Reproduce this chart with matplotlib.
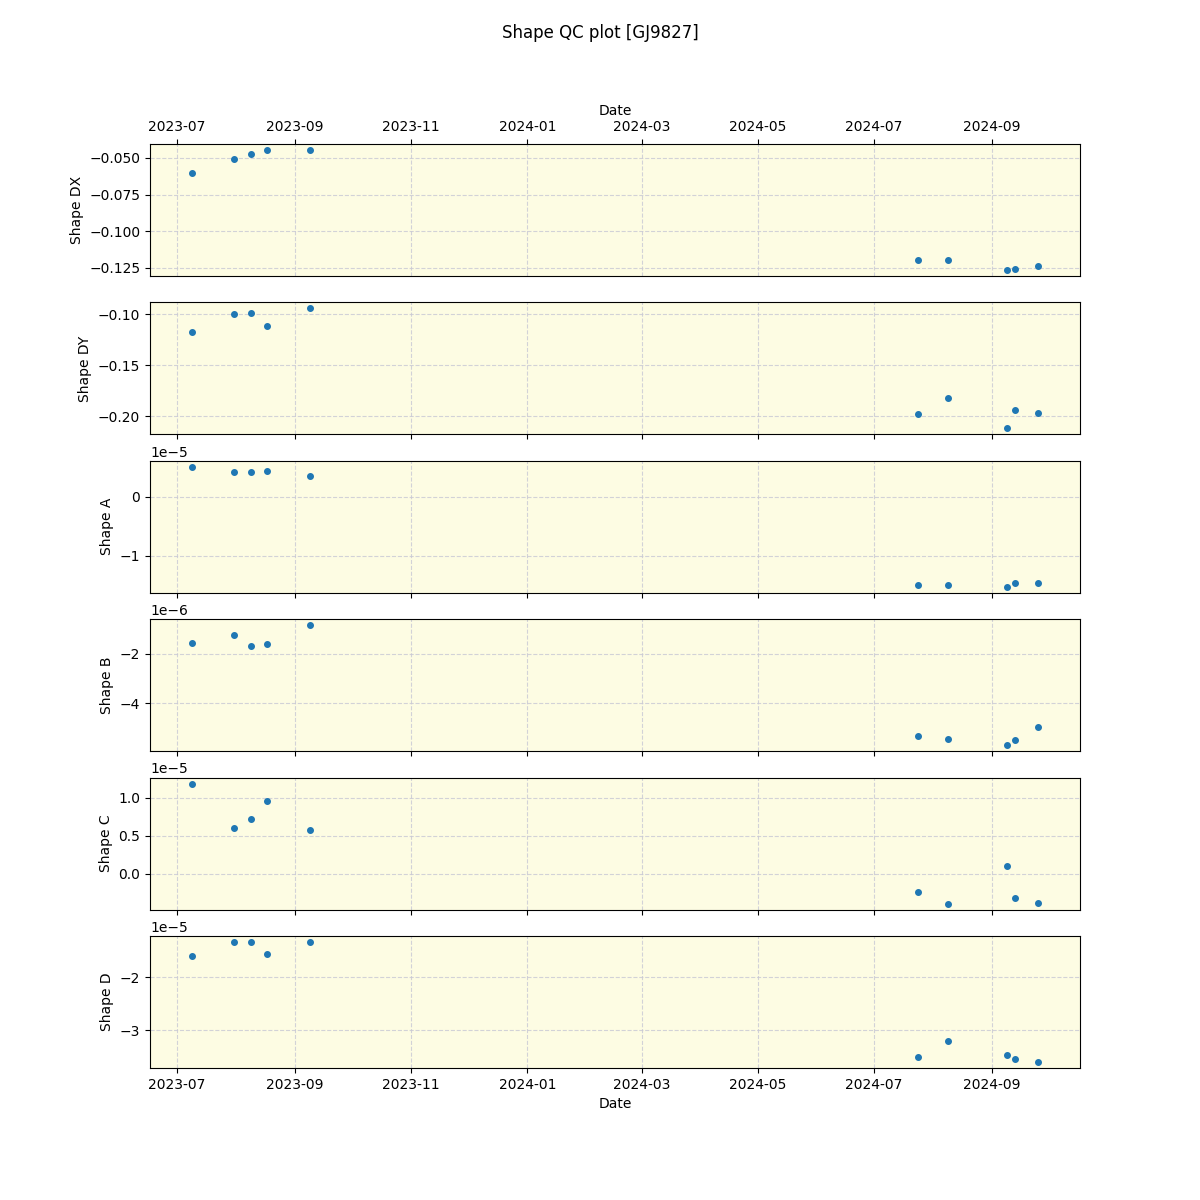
import matplotlib
matplotlib.use("Agg")
from matplotlib import pyplot as plt
import matplotlib.dates as mdates
import numpy as np
from datetime import datetime

# dates des observations
dates = [datetime(2023, 7, 9), datetime(2023, 7, 31), datetime(2023, 8, 9),
         datetime(2023, 8, 17), datetime(2023, 9, 9), datetime(2024, 7, 24),
         datetime(2024, 8, 9), datetime(2024, 9, 9), datetime(2024, 9, 13),
         datetime(2024, 9, 25)]

shape_dx = [-0.0602, -0.0507, -0.0473, -0.0446, -0.0446,
            -0.1195, -0.1195, -0.1264, -0.1257, -0.1236]
shape_dy = [-0.1176, -0.1000, -0.0990, -0.1118, -0.0941,
            -0.1980, -0.1824, -0.2118, -0.1941, -0.1970]
shape_a = [0.508e-5, 0.424e-5, 0.424e-5, 0.44e-5, 0.356e-5,
           -1.49e-5, -1.49e-5, -1.525e-5, -1.458e-5, -1.458e-5]
shape_b = [-1.59e-6, -1.265e-6, -1.71e-6, -1.63e-6, -0.857e-6,
           -5.31e-6, -5.43e-6, -5.70e-6, -5.48e-6, -4.98e-6]
shape_c = [1.184e-5, 0.605e-5, 0.724e-5, 0.96e-5, 0.579e-5,
           -0.237e-5, -0.395e-5, 0.105e-5, -0.316e-5, -0.382e-5]
shape_d = [-1.604e-5, -1.34e-5, -1.34e-5, -1.566e-5, -1.34e-5,
           -3.51e-5, -3.21e-5, -3.47e-5, -3.55e-5, -3.60e-5]

series = [shape_dx, shape_dy, shape_a, shape_b, shape_c, shape_d]
labels = ['Shape DX', 'Shape DY', 'Shape A', 'Shape B', 'Shape C', 'Shape D']

fig, axes = plt.subplots(6, 1, figsize=(12, 12), sharex=True)
fig.suptitle('Shape QC plot [GJ9827]')

for i in range(6):
    ax = axes[i]
    ax.set_facecolor('#fdfce3')
    ax.scatter(dates, series[i], s=16, color='tab:blue', zorder=3)
    ax.set_ylabel(labels[i])
    ax.grid(True, linestyle='--', color='#c8c8d4', alpha=0.8)
    ax.set_axisbelow(True)

axes[0].xaxis.tick_top()
axes[0].xaxis.set_label_position('top')
axes[0].tick_params(axis='x', labeltop=True)
axes[0].set_xlabel('Date')
axes[-1].set_xlabel('Date')
axes[-1].xaxis.set_major_formatter(mdates.DateFormatter('%Y-%m'))

plt.savefig('out.png', dpi=100)
